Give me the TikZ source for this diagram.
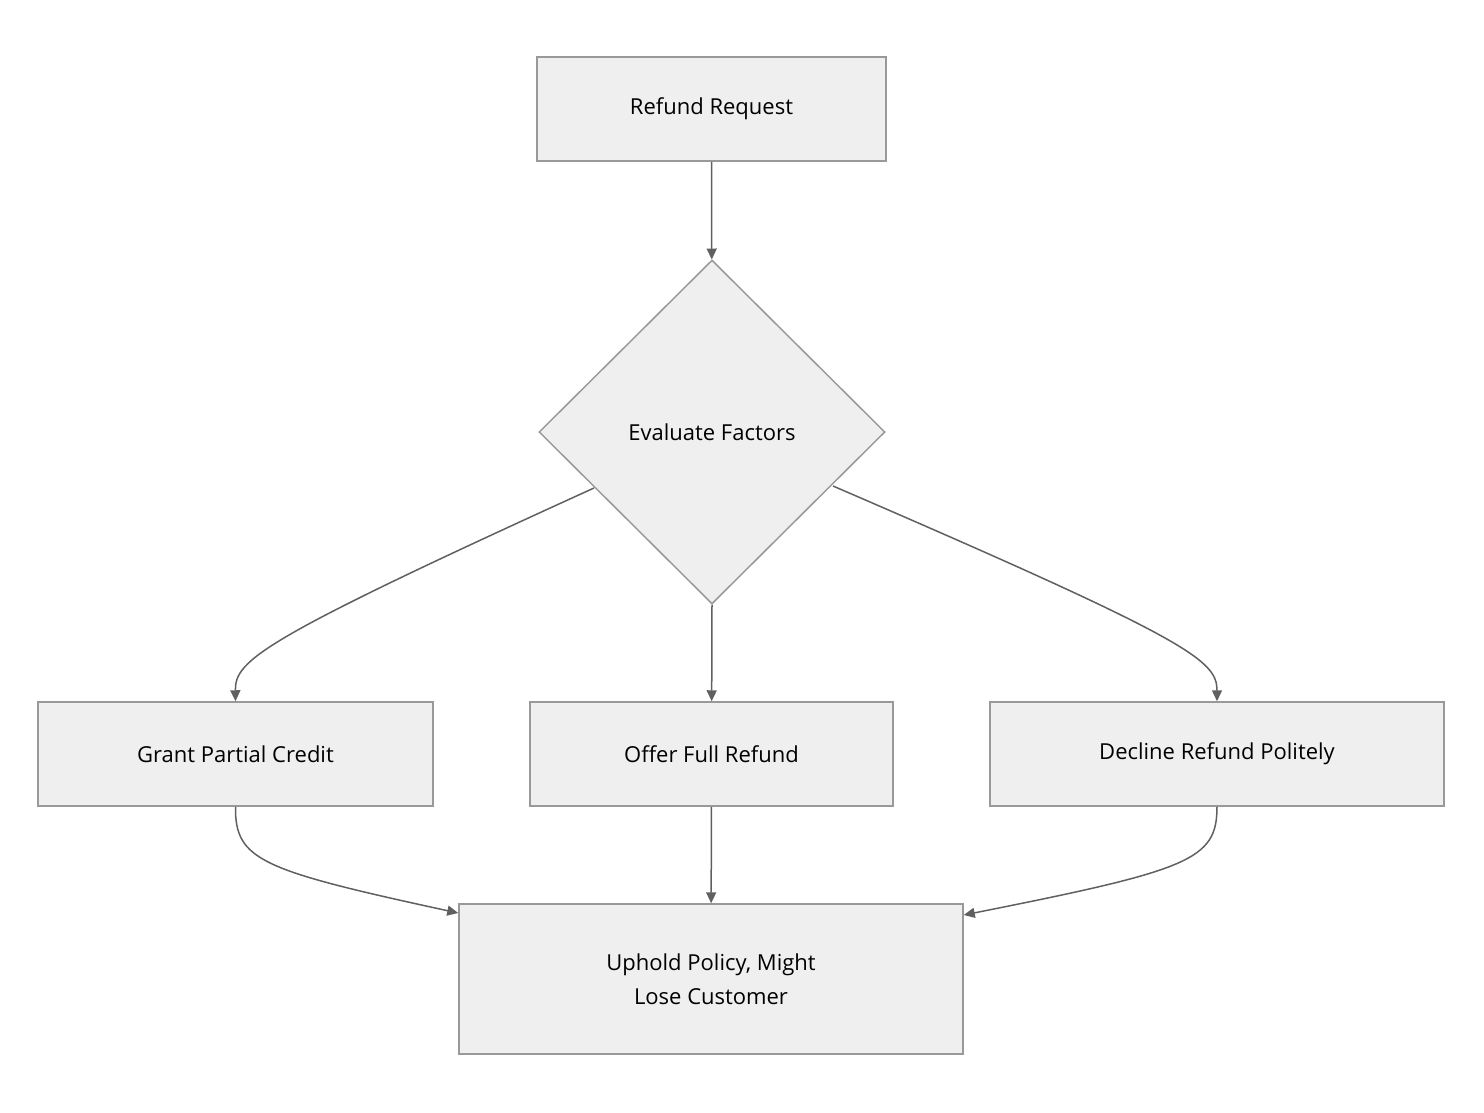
\documentclass[tikz,border=0pt]{standalone}
\usepackage{fontspec}
\setmainfont{Open Sans}
\usetikzlibrary{positioning,shapes.geometric,arrows.meta}
\definecolor{boxfill}{HTML}{EFEFEF}
\definecolor{boxline}{HTML}{999999}
\definecolor{edge}{HTML}{606060}
\begin{document}
\begin{tikzpicture}[x=1pt,y=-1pt]
\tikzset{
  box/.style={draw=boxline,fill=boxfill,line width=1.5pt,minimum height=104pt,inner sep=0pt,align=center,
    font=\fontsize{22}{34}\selectfont},
  choice/.style={diamond,draw=boxline,fill=boxfill,line width=1.5pt,minimum width=346pt,minimum height=344pt,inner sep=0pt,
    font=\fontsize{22}{34}\selectfont},
  link/.style={draw=edge,line width=1.5pt,-{Triangle[length=11pt,width=10pt]}}
}
\useasboundingbox (0,0) rectangle (1484,1112);
\node[box,minimum width=349pt] (request) at (711.5,109) {Refund Request};
\node[choice] (evaluate) at (712,432) {Evaluate Factors};
\node[box,minimum width=395pt] (partial) at (235.5,754) {Grant Partial Credit};
\node[box,minimum width=363pt] (full) at (711.5,754) {Offer Full Refund};
\node[box,minimum width=454pt] (decline) at (1217,754) {Decline Refund Politely};
\node[box,minimum width=504pt,minimum height=150pt] (uphold) at (711,979) {Uphold Policy, Might\\ Lose Customer};
% connectors
\draw[link] (request) -- (evaluate);
\draw[link] (evaluate.south) -- (full);
\draw[link] (594,488) .. controls (260,640) and (235,660) .. (partial.north);
\draw[link] (833,486) .. controls (1190,640) and (1217,660) .. (decline.north);
\draw[link] (partial.south) .. controls (235,860) and (260,870) .. (uphold.north west |- 0,913);
\draw[link] (decline.south) .. controls (1217,860) and (1190,870) .. (uphold.north east |- 0,915);
\draw[link] (full) -- (uphold);
\end{tikzpicture}
\end{document}
